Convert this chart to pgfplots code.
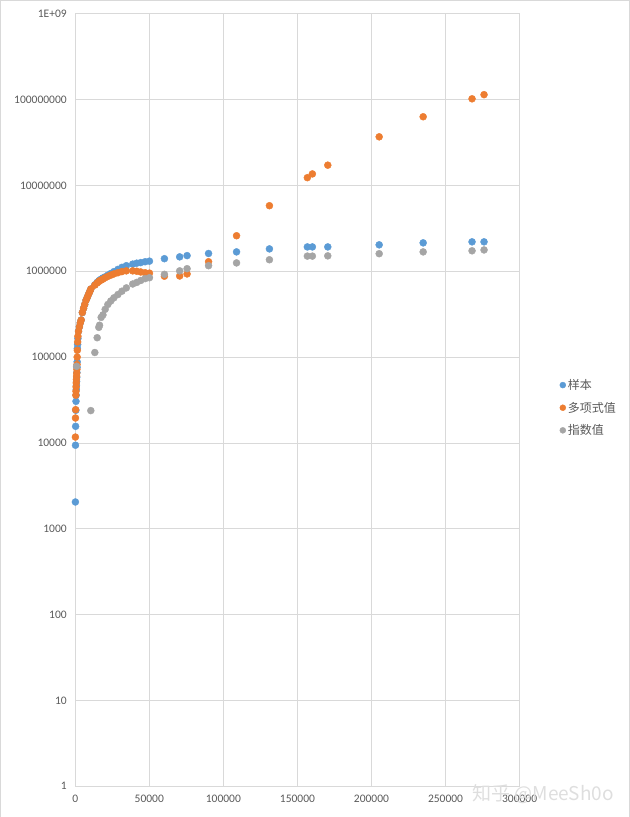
\documentclass[border=0pt]{standalone}
\usepackage{fontspec}
\setmainfont{Carlito}
\newfontfamily\cjk{Noto Sans CJK SC}
\usepackage{pgfplots}
\usepackage{pgfplotstable}
\pgfplotsset{compat=1.18}

\definecolor{sblue}{HTML}{5B9BD5}
\definecolor{sorange}{HTML}{ED7D31}
\definecolor{sgrey}{HTML}{A5A5A5}
\definecolor{gridc}{HTML}{D9D9D9}
\definecolor{txt}{HTML}{595959}

% x, sample, polynomial fit, exponential fit (nan = not shown)
\pgfplotstableread{
x      b        o          g
100    2050     11700      nan
150    9400     19500      nan
250    15600    24400      nan
400    24000    36000      nan
500    30500    40000      nan
600    36000    45000      nan
700    42000    50000      nan
800    47000    55000      nan
900    52000    60000      78000
1000   58000    65000      nan
1100   66000    72000      nan
1200   76000    82000      nan
1300   88000    100000     nan
1400   126000   120000     nan
1600   140000   150000     nan
1800   165000   175000     nan
2200   200000   200000     nan
2800   225000   225000     nan
3400   250000   250000     nan
4000   270000   270000     nan
4800   330000   330000     nan
5600   370000   370000     nan
6400   410000   410000     nan
7300   460000   460000     nan
8200   500000   500000     nan
9000   540000   540000     nan
9800   580000   580000     nan
10500  620000   620000     23800
13200  695000   690000     113000
14800  740000   730000     168000
15900  770000   760000     222000
16400  785000   770000     235000
17500  810000   790000     290000
18700  835000   810000     310000
20200  860000   840000     360000
22000  900000   870000     410000
24000  940000   900000     450000
26100  990000   930000     490000
28800  1050000  960000     535000
31500  1110000  990000     585000
34500  1160000  1010000    640000
38800  1210000  1010000    710000
41500  1240000  1000000    740000
44200  1260000  980000     780000
47200  1290000  960000     820000
50100  1310000  950000     840000
60200  1400000  875000     920000
70500  1470000  880000     1010000
75500  1520000  930000     1070000
90000  1610000  1290000    1160000
108900 1680000  2590000    1250000
131100 1820000  5800000    1360000
156700 1920000  12300000   1500000
160100 1920000  13600000   1500000
170500 1920000  17200000   1510000
205200 2030000  36800000   1600000
234900 2140000  63000000   1680000
267900 2200000  102000000  1730000
276000 2200000  114000000  1770000
}\datatable

\begin{document}
\begin{tikzpicture}
\path[use as bounding box, draw=gridc] (0.5pt,0.5pt) rectangle (629.5pt,816.5pt);
\begin{axis}[
  at={(75.5pt,31pt)}, anchor=south west,
  scale only axis, width=444pt, height=772pt,
  ymode=log,
  xmin=0, xmax=300000, ymin=1, ymax=1e9,
  xtick={0,50000,100000,150000,200000,250000,300000},
  xticklabels={0,50000,100000,150000,200000,250000,300000},
  ytick={1,10,100,1000,10000,100000,1000000,10000000,100000000,1000000000},
  yticklabels={1,10,100,1000,10000,100000,1000000,10000000,100000000,1E+09},
  scaled x ticks=false,
  yminorticks=false,
  major tick length=0pt,
  grid=major,
  grid style={gridc, line width=0.75pt},
  axis line style={gridc, line width=0.75pt},
  tick label style={font=\fontsize{11.5}{14}\selectfont, text=txt},
  yticklabel style={xshift=-5pt},
  xticklabel style={yshift=-5pt},
  legend style={at={(1,0.49)}, anchor=west, xshift=40pt, draw=none, fill=none,
    font=\cjk\fontsize{12}{14}\selectfont, text=txt, row sep=7pt,
    inner sep=0pt},
  legend cell align=left,
  legend image code/.code={\draw[#1, mark size=3pt] plot coordinates {(0pt,0pt)};},
]
\addplot[only marks, mark=*, mark size=3.5pt, color=sblue] table[x=x, y=b] {\datatable};
\addlegendentry{样本}
\addplot[only marks, mark=*, mark size=3.5pt, color=sorange] table[x=x, y=o] {\datatable};
\addlegendentry{多项式值}
\addplot[only marks, mark=*, mark size=3.5pt, color=sgrey] table[x=x, y=g] {\datatable};
\addlegendentry{指数值}
\end{axis}
\node[text=black!13, font=\cjk\fontsize{19}{22}\selectfont] at (543pt,23pt) {知乎 @MeeSh0o};
\end{tikzpicture}
\end{document}
